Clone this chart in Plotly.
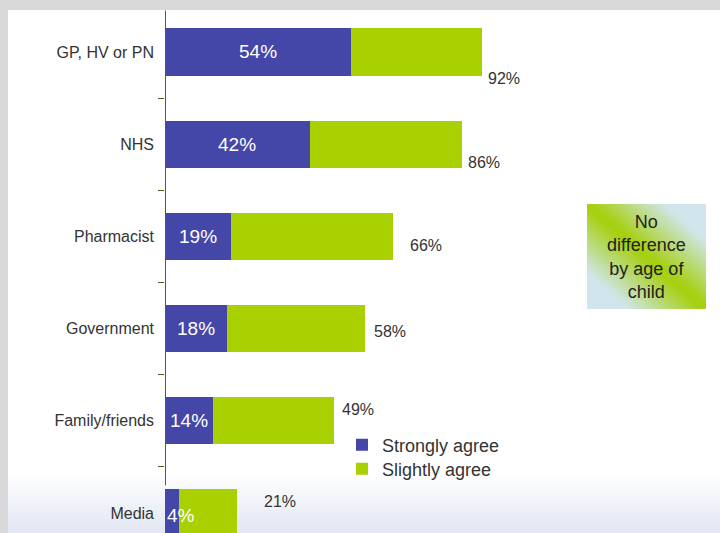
import plotly.graph_objects as go

# ---------------- data ----------------
categories = ["GP, HV or PN", "NHS", "Pharmacist", "Government", "Family/friends", "Media"]
strongly = [54, 42, 19, 18, 14, 4]
total = [92, 86, 66, 58, 49, 21]
slightly = [t - s for t, s in zip(total, strongly)]
series_names = ["Strongly agree", "Slightly agree"]
note_lines = ["No", "difference", "by age of", "child"]

# ---------------- label placement (pixels / style) ----------------
total_dx = [4, 4, 15, 7, 6, 25]      # from bar end to label left edge
total_dy = [27, 18, 9, 3, -11, -11]  # downward from bar centre
inner_anchor = ["center", "center", "center", "center", "center", "left"]
inner_dy = [0, 0, 0, 0, 0, 3]

W, H = 720, 533
def px(x):
    return x / W
def py(y):
    return 1 - y / H

BLUE = "#4446a8"
GREEN = "#a9d000"
AXIS = "#5c5c1e"
FONT = "Liberation Sans, Arial, sans-serif"

fig = go.Figure()
fig.add_bar(
    y=categories, x=strongly, orientation="h", name=series_names[0],
    marker=dict(color=BLUE, line=dict(width=0)), hoverinfo="skip",
    legend="legend",
)
fig.add_bar(
    y=categories, x=slightly, orientation="h", name=series_names[1],
    marker=dict(color=GREEN, line=dict(width=0)), hoverinfo="skip",
    legend="legend2",
)

# inner labels (strongly agree)
for c, s, anc, dy in zip(categories, strongly, inner_anchor, inner_dy):
    fig.add_annotation(
        x=(s / 2 if anc == "center" else 0), y=c, xref="x", yref="y",
        text=f"{s}%", showarrow=False, xanchor=anc, yanchor="middle",
        yshift=-dy, font=dict(size=19, color="white", family=FONT),
    )

# total labels
for c, t, dx, dy in zip(categories, total, total_dx, total_dy):
    fig.add_annotation(
        x=t, y=c, xref="x", yref="y", text=f"{t}%", showarrow=False,
        xanchor="left", yanchor="middle", xshift=dx, yshift=-dy,
        font=dict(size=16, color="#333333", family=FONT),
    )

shapes = []
# slide background (white) over grey frame
shapes.append(dict(type="rect", xref="paper", yref="paper", x0=px(8), x1=1,
                   y0=0, y1=py(10), fillcolor="white", line=dict(width=0), layer="below"))
# bottom light-blue gradient
n_strip = 12
y_start, y_end = 476, 533
c0 = (255, 255, 255)
c1 = (226, 231, 243)
for k in range(n_strip):
    f = (k + 1) / n_strip
    col = tuple(int(round(c0[j] + (c1[j] - c0[j]) * f)) for j in range(3))
    ya = y_start + (y_end - y_start) * k / n_strip
    yb = y_start + (y_end - y_start) * (k + 1) / n_strip + 0.5
    shapes.append(dict(type="rect", xref="paper", yref="paper", x0=px(8), x1=1,
                       y0=py(yb), y1=py(ya), fillcolor="rgb(%d,%d,%d)" % col,
                       line=dict(width=0), layer="below"))

# y axis line
shapes.append(dict(type="line", xref="x", yref="y", x0=0, x1=0, y0=-0.45, y1=4.7,
                   line=dict(color=AXIS, width=2), layer="above"))

# note box with diagonal gradient (green band top-left -> bottom-right)
bx0, bx1, by0, by1 = 587, 706, 204, 309
g = (166, 208, 18)
b = (208, 230, 236)
N = 20
for k in range(N + 1):
    t = 1 - k / N
    s = min(1.0, max(0.0, (t - 0.06) / 0.62))
    col = tuple(int(round(g[j] + (b[j] - g[j]) * s)) for j in range(3))
    pts = [(0, 0), (t, 0), (1, 1 - t), (1, 1), (1 - t, 1), (0, t)]
    path = ""
    for i, (u, v) in enumerate(pts):
        X = px(bx0 + u * (bx1 - bx0))
        Y = py(by0 + v * (by1 - by0))
        path += ("M" if i == 0 else "L") + f"{X:.5f},{Y:.5f}"
    path += "Z"
    shapes.append(dict(type="path", xref="paper", yref="paper", path=path,
                       fillcolor="rgb(%d,%d,%d)" % col, line=dict(width=0)))

fig.add_annotation(
    x=px((bx0 + bx1) / 2), y=py(257), xref="paper", yref="paper",
    text="<br>".join(note_lines), showarrow=False, align="center",
    xanchor="center", yanchor="middle",
    font=dict(size=18, color="#222222", family=FONT),
)

leg_common = dict(xanchor="left", yanchor="middle", bgcolor="rgba(0,0,0,0)",
                  font=dict(size=18, color="#333333", family=FONT))

fig.update_layout(
    width=W, height=H, autosize=False,
    margin=dict(l=0, r=0, t=0, b=0, pad=0),
    paper_bgcolor="#d9d9d9", plot_bgcolor="rgba(0,0,0,0)",
    barmode="stack", bargap=0.49,
    shapes=shapes, showlegend=True,
    font=dict(family=FONT, color="#333333"),
    legend=dict(x=px(342), y=py(445), **leg_common),
    legend2=dict(x=px(342), y=py(469), **leg_common),
    xaxis=dict(domain=[165 / W, 1], range=[0, 555 / 3.45], visible=False,
               fixedrange=True),
    yaxis=dict(domain=[0, 1 - 10 / H], range=[5.217, -0.4555], type="category",
               categoryorder="array", categoryarray=categories,
               ticks="outside", tickson="boundaries", ticklen=6, tickcolor=AXIS,
               tickwidth=1, showline=False, showgrid=False, zeroline=False,
               ticklabelstandoff=10,
               tickfont=dict(size=16, color="#333333", family=FONT),
               automargin=False, fixedrange=True),
)

fig.write_html("out.html")
